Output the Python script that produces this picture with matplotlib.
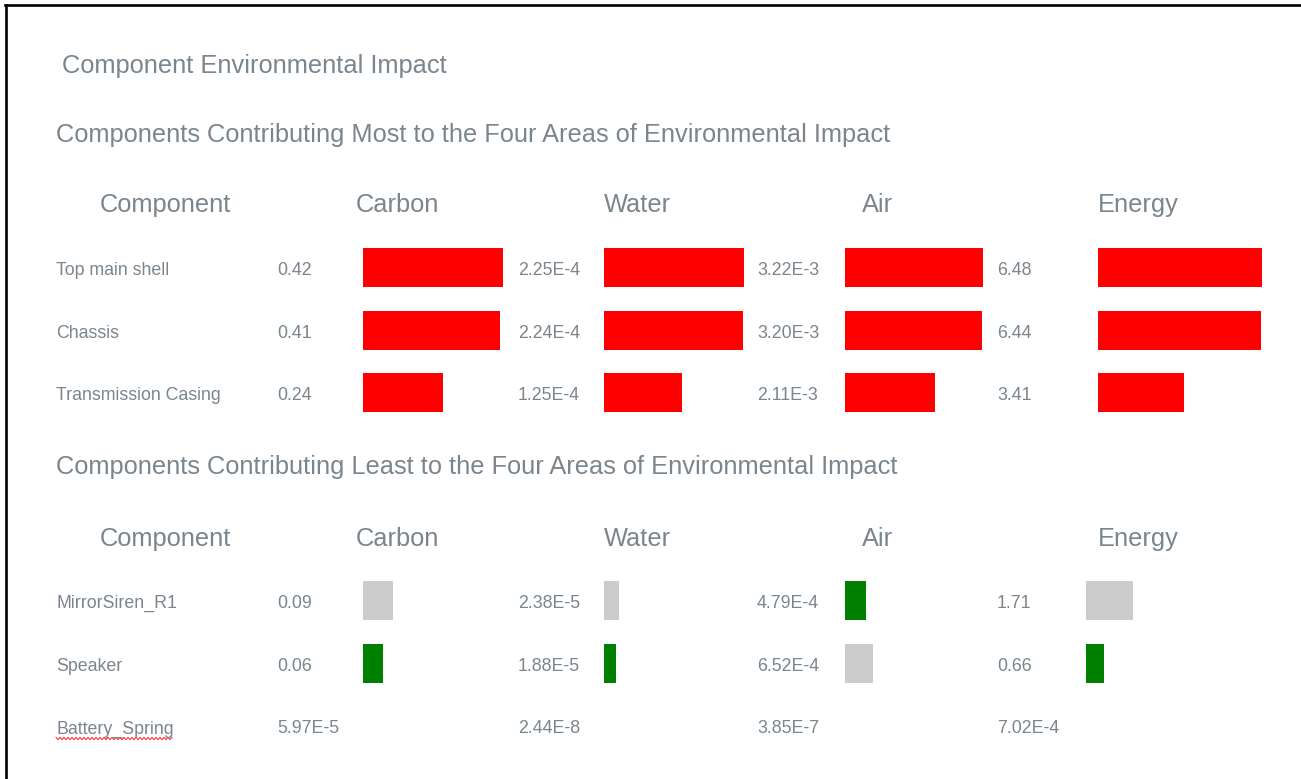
import matplotlib
matplotlib.use('Agg')
import matplotlib.pyplot as plt
from matplotlib import font_manager
from matplotlib.lines import Line2D
import numpy as np

# Data
metrics = ['Carbon', 'Water', 'Air', 'Energy']

most_components = ['Top main shell', 'Chassis', 'Transmission Casing']
most_carbon = [0.42, 0.41, 0.24]
most_water = [2.25e-4, 2.24e-4, 1.25e-4]
most_air = [3.22e-3, 3.20e-3, 2.11e-3]
most_energy = [6.48, 6.44, 3.41]

least_components = ['MirrorSiren_R1', 'Speaker', 'Battery_Spring']
least_carbon = [0.09, 0.06, 5.97e-5]
least_water = [2.38e-5, 1.88e-5, 2.44e-8]
least_air = [4.79e-4, 6.52e-4, 3.85e-7]
least_energy = [1.71, 0.66, 7.02e-4]

# component drawn in green in the "least" table
least_highlight = {'Carbon': 'Speaker', 'Water': 'Speaker',
                   'Air': 'MirrorSiren_R1', 'Energy': 'Speaker'}

# Fonts: prefer a narrow sans if there is one
names = {f.name for f in font_manager.fontManager.ttflist}
if 'Liberation Sans Narrow' in names:
    FAMILY, SCALE_BIG, SCALE_SMALL = 'Liberation Sans Narrow', 1.0, 1.0
else:
    FAMILY, SCALE_BIG, SCALE_SMALL = 'Liberation Sans', 0.87, 0.84

TXT = '#7a858d'
RED, GREEN, GREY = '#ff0000', '#008000', '#cccccc'

W, H = 1301, 779
fig = plt.figure(figsize=(W / 100, H / 100), dpi=100)
fig.patch.set_facecolor('white')


def fx(px):
    return px / W


def fy(py):
    return 1 - py / H


def put(x, y, s, size):
    return fig.text(fx(x), fy(y), s, fontsize=size, family=FAMILY,
                    color=TXT, ha='left', va='baseline')


def fmt(v):
    if v >= 0.01:
        return f'{v:.2f}'
    m, e = f'{v:.2E}'.split('E')
    return f'{m}E{int(e)}'


BIG = 21 * SCALE_BIG
SMALL = 15.2 * SCALE_SMALL

# frame lines (top and left)
fig.add_artist(Line2D([fx(5), fx(W)], [fy(5.3), fy(5.3)], color='black', lw=1.9))
fig.add_artist(Line2D([fx(6.2), fx(6.2)], [fy(4.5), fy(H)], color='black', lw=1.9))

put(62, 73, 'Component Environmental Impact', BIG)

value_x = [277, 518, 757, 997]
header_x = [356, 604, 862, 1098]
pitch = 62.7


def draw_section(title, title_y, header_y, first_row, components, columns,
                 bar_x, px_per_unit, colors):
    put(56, title_y, title, BIG)
    put(100, header_y, 'Component', BIG)
    for j, m in enumerate(metrics):
        put(header_x[j], header_y, m, BIG)
    texts = []
    for i, comp in enumerate(components):
        base = first_row + i * pitch + 7.5
        texts.append(put(56, base, comp, SMALL))
        for j in range(len(metrics)):
            put(value_x[j], base, fmt(columns[j][i]), SMALL)
    # bars, one axes per metric column
    for j, m in enumerate(metrics):
        w_px = 200
        top = first_row - pitch / 2
        ax = fig.add_axes([fx(bar_x[j]), fy(top + 3 * pitch), w_px / W, 3 * pitch / H])
        ax.barh(np.arange(len(components)), columns[j], height=0.62,
                color=colors[j], edgecolor='none')
        ax.set_xlim(0, w_px / px_per_unit[j])
        ax.set_ylim(len(components) - 0.5, -0.5)
        ax.axis('off')
    return texts


most_cols = [most_carbon, most_water, most_air, most_energy]
least_cols = [least_carbon, least_water, least_air, least_energy]

# longest bar of each column in pixels
top_len = [140, 140, 138, 164]
ppu_top = [top_len[j] / max(most_cols[j]) for j in range(4)]
ppu_bottom = ppu_top[:3] + [27.2]

draw_section('Components Contributing Most to the Four Areas of Environmental Impact',
             142, 212.3, 267.5, most_components, most_cols,
             [363, 604, 845, 1098], ppu_top, [RED] * 4)

least_colors = [[GREEN if c == least_highlight[m] else GREY for c in least_components]
                for m in metrics]
texts = draw_section('Components Contributing Least to the Four Areas of Environmental Impact',
                     474.3, 546, 600.5, least_components, least_cols,
                     [363, 604, 845, 1086], ppu_bottom, least_colors)

# red spell-check squiggle under the last component name
fig.canvas.draw()
bb = texts[-1].get_window_extent()
xs = np.arange(bb.x0, bb.x1, 2.0)
ys = (H - 738.5) + np.where(np.arange(len(xs)) % 2 == 0, 1.2, -1.2)
fig.add_artist(Line2D(xs / W, ys / H, color='#ff2020', lw=0.7))

fig.savefig('out.png', dpi=100, facecolor='white')
